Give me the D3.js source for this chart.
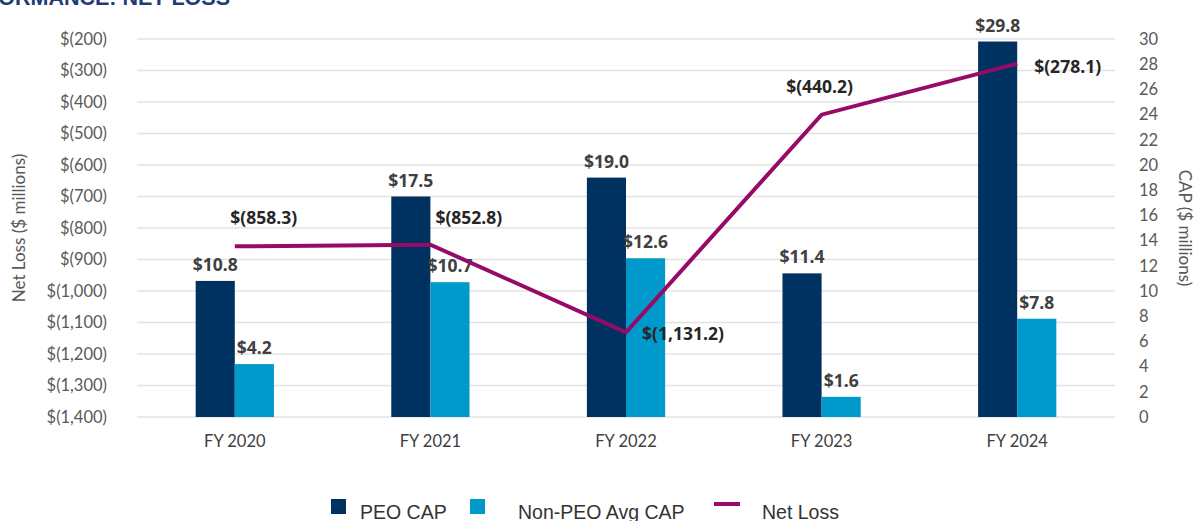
<!DOCTYPE html>
<html>
<head>
<meta charset="utf-8">
<script src="https://cdn.jsdelivr.net/npm/d3@7"></script>
<style>
  body { margin: 0; background: #fff; }
  svg { display: block; }
</style>
</head>
<body>
<div id="chart"></div>
<script>
// Pay versus performance: net loss vs CAP
const years = ["FY 2020", "FY 2021", "FY 2022", "FY 2023", "FY 2024"];
const peoCap = [10.8, 17.5, 19.0, 11.4, 29.8];
const nonPeoCap = [4.2, 10.7, 12.6, 1.6, 7.8];
const netLoss = [-858.3, -852.8, -1131.2, -440.2, -278.1];
const leftTicks = [-200, -300, -400, -500, -600, -700, -800, -900, -1000, -1100, -1200, -1300, -1400];
const rightTicks = [0, 2, 4, 6, 8, 10, 12, 14, 16, 18, 20, 22, 24, 26, 28, 30];

// where each net loss label sits relative to its point
const lossLabelPos = [
    {dx: 29, dy: -22, anchor: "middle"},
    {dx: 5, dy: -21, anchor: "start"},
    {dx: 16, dy: 8, anchor: "start"},
    {dx: -2, dy: -22, anchor: "middle"},
    {dx: 17, dy: 9, anchor: "start"}
];

const width = 1196, height = 521;
const margin = {top: 39, right: 81, bottom: 104, left: 137};

const colPeo = "#003261", colNon = "#0099cc", colLine = "#950b67";

const svg = d3.select("#chart").append("svg")
    .attr("width", width)
    .attr("height", height);

// clipped title at the very top
svg.append("text")
    .attr("x", 230)
    .attr("y", 5)
    .attr("text-anchor", "end")
    .style("font-family", "'Liberation Sans', Arial, sans-serif")
    .style("font-weight", "bold")
    .style("font-size", "21.5px")
    .attr("fill", "#1f3c78")
    .text("PAY VERSUS PERFORMANCE: NET LOSS");

const x = d3.scaleBand()
    .domain(years)
    .range([margin.left, width - margin.right])
    .paddingInner(0.6)
    .paddingOuter(0.3);

const yLeft = d3.scaleLinear()
    .domain([-1400, -200])
    .range([height - margin.bottom, margin.top]);

const yRight = d3.scaleLinear()
    .domain([0, 30])
    .range([height - margin.bottom, margin.top]);

const fmtLoss = v => "$(" + d3.format(",")(Math.abs(v)) + ")";
const fmtLossLabel = v => "$(" + d3.format(",.1f")(Math.abs(v)) + ")";

// gridlines
svg.append("g")
    .selectAll("line")
    .data(leftTicks)
    .join("line")
    .attr("x1", margin.left)
    .attr("x2", width - margin.right)
    .attr("y1", d => yLeft(d))
    .attr("y2", d => yLeft(d))
    .attr("stroke", "#e3e3e3")
    .attr("stroke-width", 1.5);

const tickFont = "Lato, 'Open Sans', sans-serif";

// left axis
const gl = svg.append("g")
    .attr("transform", "translate(" + (margin.left - 30) + ",0)")
    .call(d3.axisLeft(yLeft).tickValues(leftTicks).tickFormat(fmtLoss).tickSize(0).tickPadding(0));
gl.select(".domain").remove();
gl.selectAll("text")
    .style("font-family", tickFont)
    .style("font-size", "16.5px")
    .attr("fill", "#595959");

// right axis
const gr = svg.append("g")
    .attr("transform", "translate(" + (width - margin.right + 24) + ",0)")
    .call(d3.axisRight(yRight).tickValues(rightTicks).tickSize(0).tickPadding(0));
gr.select(".domain").remove();
gr.selectAll("text")
    .style("font-family", tickFont)
    .style("font-size", "16.5px")
    .attr("fill", "#595959");

// x axis
const gx = svg.append("g")
    .attr("transform", "translate(0," + (height - margin.bottom + 18) + ")")
    .call(d3.axisBottom(x).tickSize(0).tickPadding(0));
gx.select(".domain").remove();
gx.selectAll("text")
    .style("font-family", tickFont)
    .style("font-size", "16.5px")
    .attr("fill", "#404040")
    .attr("dy", "0.71em");

// axis titles
svg.append("text")
    .attr("transform", "translate(25," + ((margin.top + height - margin.bottom) / 2) + ") rotate(-90)")
    .attr("text-anchor", "middle")
    .style("font-family", tickFont)
    .style("font-size", "17px")
    .attr("fill", "#595959")
    .text("Net Loss ($ millions)");

svg.append("text")
    .attr("transform", "translate(1179," + ((margin.top + height - margin.bottom) / 2) + ") rotate(90)")
    .attr("text-anchor", "middle")
    .style("font-family", tickFont)
    .style("font-size", "17px")
    .attr("fill", "#595959")
    .text("CAP ($ millions)");

// bars
const half = x.bandwidth() / 2;
const bars = svg.append("g");
bars.selectAll(".peo")
    .data(peoCap)
    .join("rect")
    .attr("class", "peo")
    .attr("x", (d, i) => x(years[i]))
    .attr("width", half)
    .attr("y", d => yRight(d))
    .attr("height", d => yRight(0) - yRight(d))
    .attr("fill", colPeo);

bars.selectAll(".nonpeo")
    .data(nonPeoCap)
    .join("rect")
    .attr("class", "nonpeo")
    .attr("x", (d, i) => x(years[i]) + half)
    .attr("width", half)
    .attr("y", d => yRight(d))
    .attr("height", d => yRight(0) - yRight(d))
    .attr("fill", colNon);

const labelFont = "'Open Sans', 'Noto Sans', sans-serif";
const labelSize = "17.5px";

// bar labels
svg.append("g").selectAll("text")
    .data(peoCap)
    .join("text")
    .attr("x", (d, i) => x(years[i]) + half / 2)
    .attr("y", d => yRight(d) - 10)
    .attr("text-anchor", "middle")
    .style("font-family", labelFont)
    .style("font-weight", "bold")
    .style("font-size", labelSize)
    .attr("fill", "#404040")
    .text(d => "$" + d3.format(".1f")(d));

svg.append("g").selectAll("text")
    .data(nonPeoCap)
    .join("text")
    .attr("x", (d, i) => x(years[i]) + half * 1.5)
    .attr("y", d => yRight(d) - 10)
    .attr("text-anchor", "middle")
    .style("font-family", labelFont)
    .style("font-weight", "bold")
    .style("font-size", labelSize)
    .attr("fill", "#404040")
    .text(d => "$" + d3.format(".1f")(d));

// net loss line
const lineGen = d3.line()
    .x((d, i) => x(years[i]) + half)
    .y(d => yLeft(d));

svg.append("path")
    .datum(netLoss)
    .attr("d", lineGen)
    .attr("fill", "none")
    .attr("stroke", colLine)
    .attr("stroke-width", 4)
    .attr("stroke-linejoin", "miter");

svg.append("g").selectAll("text")
    .data(netLoss)
    .join("text")
    .attr("x", (d, i) => x(years[i]) + half + lossLabelPos[i].dx)
    .attr("y", (d, i) => yLeft(d) + lossLabelPos[i].dy)
    .attr("text-anchor", (d, i) => lossLabelPos[i].anchor)
    .style("font-family", labelFont)
    .style("font-weight", "bold")
    .style("font-size", labelSize)
    .attr("fill", "#262626")
    .text(d => fmtLossLabel(d));

// legend
const legendItems = [
    {name: "PEO CAP", type: "rect", color: colPeo, x: 331, tx: 360},
    {name: "Non-PEO Avg CAP", type: "rect", color: colNon, x: 470, tx: 518},
    {name: "Net Loss", type: "line", color: colLine, x: 714, tx: 762}
];
const lg = svg.append("g");
legendItems.forEach(item => {
    if (item.type === "rect") {
        lg.append("rect")
            .attr("x", item.x)
            .attr("y", 499)
            .attr("width", 15)
            .attr("height", 15)
            .attr("fill", item.color);
    } else {
        lg.append("line")
            .attr("x1", item.x)
            .attr("x2", item.x + 26)
            .attr("y1", 504)
            .attr("y2", 504)
            .attr("stroke", item.color)
            .attr("stroke-width", 4);
    }
    lg.append("text")
        .attr("x", item.tx)
        .attr("y", 519)
        .style("font-family", "'Liberation Sans', Arial, sans-serif")
        .style("font-size", "19.5px")
        .attr("fill", "#333")
        .text(item.name);
});
</script>
</body>
</html>
